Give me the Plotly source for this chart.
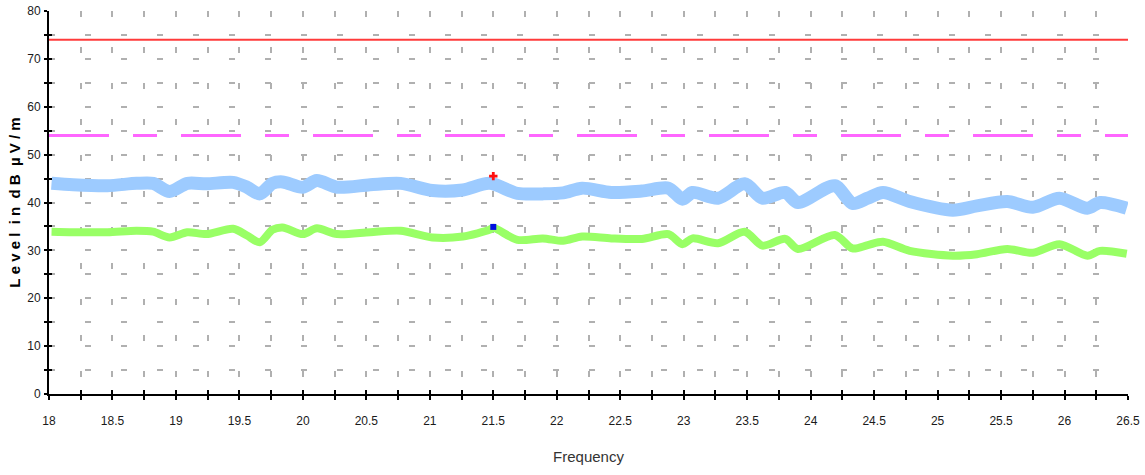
import plotly.graph_objects as go

# Frequency sweep (GHz) and measured levels (dBµV/m)
freq_blue = [18.02, 18.19, 18.46, 18.69, 18.82, 18.95, 19.09, 19.24, 19.45, 19.56,
             19.66, 19.76, 19.84, 20.0, 20.11, 20.27, 20.53, 20.77, 21.02, 21.26,
             21.47, 21.69, 21.89, 22.05, 22.2, 22.43, 22.67, 22.88, 22.99, 23.07,
             23.27, 23.48, 23.62, 23.8, 23.9, 24.19, 24.33, 24.45, 24.57, 24.78,
             25.12, 25.31, 25.55, 25.75, 25.96, 26.18, 26.28, 26.49]
peak_level = [44.0, 43.7, 43.5, 44.0, 44.0, 42.3, 44.0, 43.9, 44.2, 43.2,
              41.8, 44.0, 44.3, 43.2, 44.6, 43.2, 43.7, 44.0, 42.5, 42.6,
              44.0, 41.9, 41.8, 42.0, 43.0, 42.1, 42.4, 43.0, 40.7, 42.1,
              40.9, 43.9, 40.9, 42.1, 40.0, 43.5, 39.8, 40.9, 42.1, 40.2,
              38.4, 39.3, 40.2, 39.0, 40.9, 38.8, 40.0, 38.8]

freq_green = [18.02, 18.19, 18.46, 18.69, 18.82, 18.95, 19.09, 19.24, 19.45, 19.56,
              19.66, 19.76, 19.84, 20.0, 20.11, 20.27, 20.53, 20.77, 21.02, 21.26,
              21.47, 21.5, 21.69, 21.89, 22.05, 22.2, 22.43, 22.67, 22.88, 22.99,
              23.07, 23.27, 23.48, 23.62, 23.8, 23.9, 24.19, 24.33, 24.45, 24.57,
              24.78, 25.12, 25.31, 25.55, 25.75, 25.96, 26.18, 26.28, 26.49]
avg_level = [33.9, 33.8, 33.8, 34.1, 33.9, 32.7, 33.8, 33.4, 34.5, 33.1,
             31.7, 34.3, 34.8, 33.4, 34.6, 33.4, 33.8, 34.1, 32.7, 32.9,
             34.3, 34.7, 32.2, 32.5, 32.0, 32.9, 32.5, 32.4, 33.4, 31.3,
             32.5, 31.5, 33.9, 31.0, 32.4, 30.3, 33.2, 30.4, 31.1, 31.8,
             29.9, 28.9, 29.2, 30.3, 29.5, 31.3, 28.9, 29.9, 29.3]

# Limit lines
limit_peak = 74
limit_avg = 54
freq_span = [18, 26.5]

# Marker readings
marker_freq = [21.5]
marker_peak = [45.5]
marker_avg = [34.9]

label_family = "Liberation Sans, Arial, sans-serif"
tick_font = dict(family=label_family, size=12, color="#1a1a1a")
grid_col = "#b0b0b0"
nb = "\u00a0"

fig = go.Figure()

fig.add_trace(go.Scatter(x=freq_span, y=[limit_peak] * 2, mode="lines",
                         line=dict(color="#ff3b3b", width=2), showlegend=False))
fig.add_trace(go.Scatter(x=freq_span, y=[limit_avg] * 2, mode="lines",
                         line=dict(color="#ff66ff", width=3, dash="60px,24px,24px,24px"),
                         showlegend=False))
fig.add_trace(go.Scatter(x=freq_blue, y=peak_level, mode="lines",
                         line=dict(color="#9dcbff", width=13, shape="spline", smoothing=0.8),
                         showlegend=False))
fig.add_trace(go.Scatter(x=freq_green, y=avg_level, mode="lines",
                         line=dict(color="#99ff66", width=8, shape="spline", smoothing=0.8),
                         showlegend=False))
fig.add_trace(go.Scatter(x=marker_freq, y=marker_peak, mode="markers", xaxis="x2", yaxis="y2",
                         marker=dict(symbol="cross", size=7, color="#ff1010"), showlegend=False))
fig.add_trace(go.Scatter(x=marker_freq, y=marker_avg, mode="markers", xaxis="x2", yaxis="y2",
                         marker=dict(symbol="square", size=6, color="#0010e0"), showlegend=False))

y_title = nb.join(["L", "e", "v", "e", "l", "", "i", "n", "", "d", "B", "", "µ", "V", "/", "m"])

fig.update_layout(
    width=1145, height=475,
    margin=dict(l=49, r=17, t=11, b=81),
    paper_bgcolor="white", plot_bgcolor="white",
    xaxis=dict(
        range=freq_span, tickmode="linear", tick0=18, dtick=0.5, automargin=False,
        ticks="outside", ticklen=4, tickwidth=2, tickcolor="black",
        showline=True, linecolor="black", linewidth=2, zeroline=False,
        showgrid=True, gridcolor=grid_col, gridwidth=1.5, griddash="6px,30px",
        minor=dict(dtick=0.25, ticks="outside", ticklen=4, tickwidth=2, tickcolor="black",
                   showgrid=True, gridcolor=grid_col, gridwidth=1.5, griddash="6px,30px"),
        tickfont=tick_font, ticklabelstandoff=11,
        title=dict(text="Frequency", font=dict(family=label_family, size=15, color="#333"), standoff=24),
    ),
    yaxis=dict(
        range=[0, 80], tickmode="linear", tick0=0, dtick=10, automargin=False,
        ticks="outside", ticklen=3, tickwidth=2, tickcolor="black",
        showline=True, linecolor="black", linewidth=2, zeroline=False,
        showgrid=True, gridcolor=grid_col, gridwidth=1.5, griddash="6px,30px",
        minor=dict(dtick=5, ticks="outside", ticklen=3, tickwidth=2, tickcolor="black",
                   showgrid=True, gridcolor=grid_col, gridwidth=1.5, griddash="6px,30px"),
        tickfont=tick_font, ticklabelstandoff=1,
        title=dict(text="<b>" + y_title + "</b>",
                   font=dict(family=label_family, size=15, color="black"), standoff=3),
    ),
    xaxis2=dict(overlaying="x", anchor="y2", range=freq_span, tickmode="linear", tick0=18, dtick=0.25,
                ticks="inside", ticklen=4, tickwidth=2, tickcolor="black", automargin=False,
                showticklabels=False, showgrid=False, showline=False, zeroline=False),
    yaxis2=dict(overlaying="y", anchor="x2", range=[0, 80], tickmode="linear", tick0=0, dtick=5,
                ticks="inside", ticklen=3, tickwidth=2, tickcolor="black", automargin=False,
                showticklabels=False, showgrid=False, showline=False, zeroline=False),
)

fig.write_html("out.html")
